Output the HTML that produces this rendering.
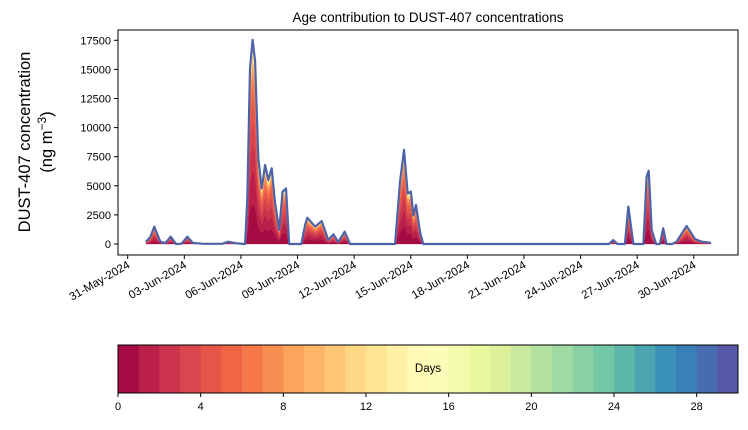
<!DOCTYPE html>
<html><head><meta charset="utf-8"><style>
body{margin:0;background:#fff}
svg text{font-family:"Liberation Sans","DejaVu Sans",sans-serif;fill:#000}
</style></head><body>
<svg id="c" width="748" height="425" viewBox="0 0 748 425" xmlns="http://www.w3.org/2000/svg"></svg>
<script>
// data: control points (days since 31-May-2024 00:00, total concentration ng m-3)
const pointDays=[0.97,1.2,1.41,1.73,2.0,2.28,2.56,2.85,3.16,3.45,4.0,5.0,5.33,5.8,6.22,6.34,6.48,6.62,6.75,6.92,7.1,7.28,7.45,7.63,7.8,8.03,8.21,8.39,8.56,9.2,9.4,9.52,9.93,10.28,10.63,10.9,11.16,11.5,11.78,14.17,14.43,14.64,14.84,15.01,15.14,15.28,15.49,15.66,25.5,25.73,25.95,26.35,26.53,26.8,27.33,27.5,27.61,27.77,28.0,28.2,28.38,28.55,28.85,29.09,29.62,30.06,30.42,30.91];
const totalValues=[200,600,1490,200,80,630,0,30,630,100,20,20,200,50,0,3920,15090,17540,15700,7360,4780,6790,5500,6500,3640,1200,4490,4780,0,0,1630,2260,1490,1970,340,830,170,1060,0,0,5350,8080,4350,4490,2450,3360,1030,0,0,340,0,0,3210,0,0,5780,6300,1200,0,0,1350,0,0,200,1550,430,200,100];
// relative contribution of each age bin (0..29 days)
const ageShare=[0.2,0.17,0.14,0.11,0.09,0.07,0.05,0.04,0.03,0.02,0.015,0.012,0.01,0.008,0.006,0.005,0.003,0.003,0.003,0.003,0.003,0.003,0.003,0.003,0.003,0.003,0.003,0.003,0.003,0.003];
const yTicks=[0,2500,5000,7500,10000,12500,15000,17500];
const xTickDays=[0,3,6,9,12,15,18,21,24,27,30];
const xTickLabels=["31-May-2024","03-Jun-2024","06-Jun-2024","09-Jun-2024","12-Jun-2024","15-Jun-2024","18-Jun-2024","21-Jun-2024","24-Jun-2024","27-Jun-2024","30-Jun-2024"];
const cbTicks=[0,4,8,12,16,20,24,28];

const NS="http://www.w3.org/2000/svg",svg=document.getElementById('c');
function el(t,a,p){const e=document.createElementNS(NS,t);for(const k in a)e.setAttribute(k,a[k]);(p||svg).appendChild(e);return e;}
const X=d=>127.7+18.87*d, Y=v=>244-v/2500*29.1;
const L=118,R=738,T=30,B=255;
const spec=[[158,1,66],[213,62,79],[244,109,67],[253,174,97],[254,224,139],[255,255,191],[230,245,152],[171,221,164],[102,194,165],[50,136,189],[94,79,162]];
function cmap(t){const s=t*10,i=Math.min(9,Math.floor(s)),f=s-i,a=spec[i],b=spec[i+1];return`rgb(${a.map((v,k)=>Math.round(v+(b[k]-v)*f)).join(',')})`;}
const shareSum=ageShare.reduce((a,b)=>a+b,0);

// title
let t=el('text',{x:428,y:22,'font-size':13.5,'text-anchor':'middle'});t.textContent='Age contribution to DUST-407 concentrations';


// y label
let g=el('g',{transform:'translate(30,142) rotate(-90)'});


t=el('text',{x:0,y:0,'font-size':16.5,'text-anchor':'middle'},g);t.textContent='DUST-407 concentration';
t=el('text',{x:0,y:22,'font-size':16.5,'text-anchor':'middle'},g);t.innerHTML='(ng m<tspan dy="-6" font-size="12">−3</tspan><tspan dy="6">)</tspan>';

// stacked areas
const cum=pointDays.map(()=>0);
const areas=el('g',{});


ageShare.forEach((s,k)=>{
  const lo=cum.slice();pointDays.forEach((d,i)=>cum[i]+=totalValues[i]*s/shareSum);
  let dstr='M'+pointDays.map((d,i)=>X(d).toFixed(1)+','+Y(cum[i]).toFixed(1)).join('L');
  for(let i=pointDays.length-1;i>=0;i--)dstr+='L'+X(pointDays[i]).toFixed(1)+','+Y(lo[i]).toFixed(1);
  const p=el('path',{d:dstr+'Z',fill:cmap((k+0.5)/30),stroke:cmap((k+0.5)/30),'stroke-width':0.3},areas);
  
  
});
const outline=el('path',{d:'M'+pointDays.map((d,i)=>X(d).toFixed(1)+','+Y(cum[i]).toFixed(1)).join('L'),fill:'none',stroke:'#4e62a8','stroke-width':2.2,'stroke-linejoin':'round'});



// frame
const fr=el('rect',{x:L,y:T,width:R-L,height:B-T,fill:'none',stroke:'#000','stroke-width':1});


yTicks.forEach(v=>{el('line',{x1:L-4,x2:L,y1:Y(v),y2:Y(v),stroke:'#000'});
  const tx=el('text',{x:L-7,y:Y(v)+4,'font-size':11,'text-anchor':'end'});tx.textContent=v;
  
  });
xTickDays.forEach((d,i)=>{el('line',{x1:X(d),x2:X(d),y1:B,y2:B+4,stroke:'#000'});
  const tx=el('text',{x:0,y:0,'font-size':11.5,'text-anchor':'end',transform:`translate(${X(d)+3},${B+12}) rotate(-30)`});tx.textContent=xTickLabels[i];
  
  });

// colorbar
const cb=el('g',{});


const cL=118,cR=738,cT=345,cB=393,bw=(cR-cL)/30;
for(let k=0;k<30;k++){const r=el('rect',{x:cL+k*bw,y:cT,width:bw+0.5,height:cB-cT,fill:cmap((k+0.5)/30)},cb);
  
  }
el('rect',{x:cL,y:cT,width:cR-cL,height:cB-cT,fill:'none',stroke:'#000'},cb);
cbTicks.forEach(v=>{const x=cL+v*bw;el('line',{x1:x,x2:x,y1:cB,y2:cB+4,stroke:'#000'},cb);
  const tx=el('text',{x:x,y:cB+17,'font-size':11,'text-anchor':'middle'},cb);tx.textContent=v;
  
  });
t=el('text',{x:428,y:372,'font-size':11.5,'text-anchor':'middle'},cb);t.textContent='Days';


</script>
</body></html>
